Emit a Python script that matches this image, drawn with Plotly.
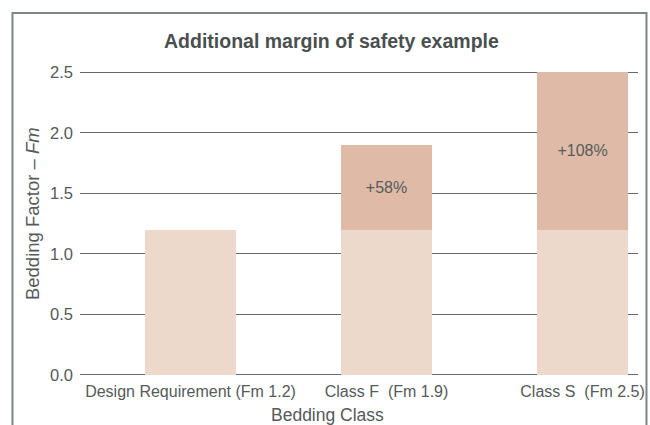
import plotly.graph_objects as go

# Bedding classes and their bedding factors (Fm)
class_names = ["Design Requirement", "Class F\u00a0", "Class S\u00a0"]
fm_values = [1.2, 1.9, 2.5]
required_fm = 1.2
y_ticks = [0.0, 0.5, 1.0, 1.5, 2.0, 2.5]

categories = [f"{n} (Fm {v})" for n, v in zip(class_names, fm_values)]
base_part = [min(required_fm, v) for v in fm_values]
extra_part = [v - required_fm for v in fm_values]
extra_text = [f"+{round((v / required_fm - 1) * 100)}%" if v > required_fm else ""
              for v in fm_values]

BASE_COLOR = "#EDD9CB"
EXTRA_COLOR = "#DFBBA7"
TEXT_COLOR = "#555a5a"
FONT = "Liberation Sans, Arial, sans-serif"

fig = go.Figure()
fig.add_trace(go.Bar(
    x=categories, y=base_part, marker=dict(color=BASE_COLOR, line=dict(width=0)),
    width=0.464, hoverinfo="skip",
))
fig.add_trace(go.Bar(
    x=categories, y=extra_part, marker=dict(color=EXTRA_COLOR, line=dict(width=0)),
    width=0.464, text=extra_text, textposition="inside", insidetextanchor="middle",
    textangle=0, textfont=dict(size=16, color=TEXT_COLOR, family=FONT),
    hoverinfo="skip",
))

fig.update_layout(
    barmode="stack",
    width=650, height=425,
    margin=dict(l=80, r=12, t=71, b=49),
    paper_bgcolor="white", plot_bgcolor="white",
    showlegend=False,
    font=dict(family=FONT, color=TEXT_COLOR, size=16),
    xaxis=dict(
        type="category", range=[-0.564, 2.283], automargin=False,
        showgrid=False, showline=False, zeroline=False, ticks="",
        tickfont=dict(size=16, color=TEXT_COLOR), ticklabelstandoff=4,
    ),
    yaxis=dict(
        range=[-0.01, 2.51], tickvals=y_ticks, automargin=False,
        ticktext=[f"{t:.1f}" for t in y_ticks],
        showgrid=True, gridcolor="#666a6a", gridwidth=1,
        zeroline=False, showline=False, ticks="",
        tickfont=dict(size=16.5, color=TEXT_COLOR), ticklabelstandoff=6,
        layer="below traces",
    ),
    annotations=[
        dict(text="<b>Additional margin of safety example</b>", xref="paper", yref="paper",
             x=0.451, y=1.098, xanchor="center", yanchor="middle", showarrow=False,
             font=dict(size=19.5, color="#4a4f4f", family=FONT)),
        dict(text="Bedding Factor – <i>Fm</i>", xref="paper", yref="paper",
             x=-0.086, y=0.531, xanchor="center", yanchor="middle", textangle=-90,
             showarrow=False, font=dict(size=18.5, color=TEXT_COLOR, family=FONT)),
        dict(text="Bedding Class", xref="paper", yref="paper",
             x=0.444, y=-0.128, xanchor="center", yanchor="middle", showarrow=False,
             font=dict(size=17.5, color=TEXT_COLOR, family=FONT)),
    ],
    shapes=[
        dict(type="rect", xref="paper", yref="paper",
             x0=-0.1210, x1=1.0152, y0=-0.25, y1=1.190,
             line=dict(color="#808585", width=2), fillcolor="rgba(0,0,0,0)", layer="above"),
    ],
)

fig.write_html("out.html")
